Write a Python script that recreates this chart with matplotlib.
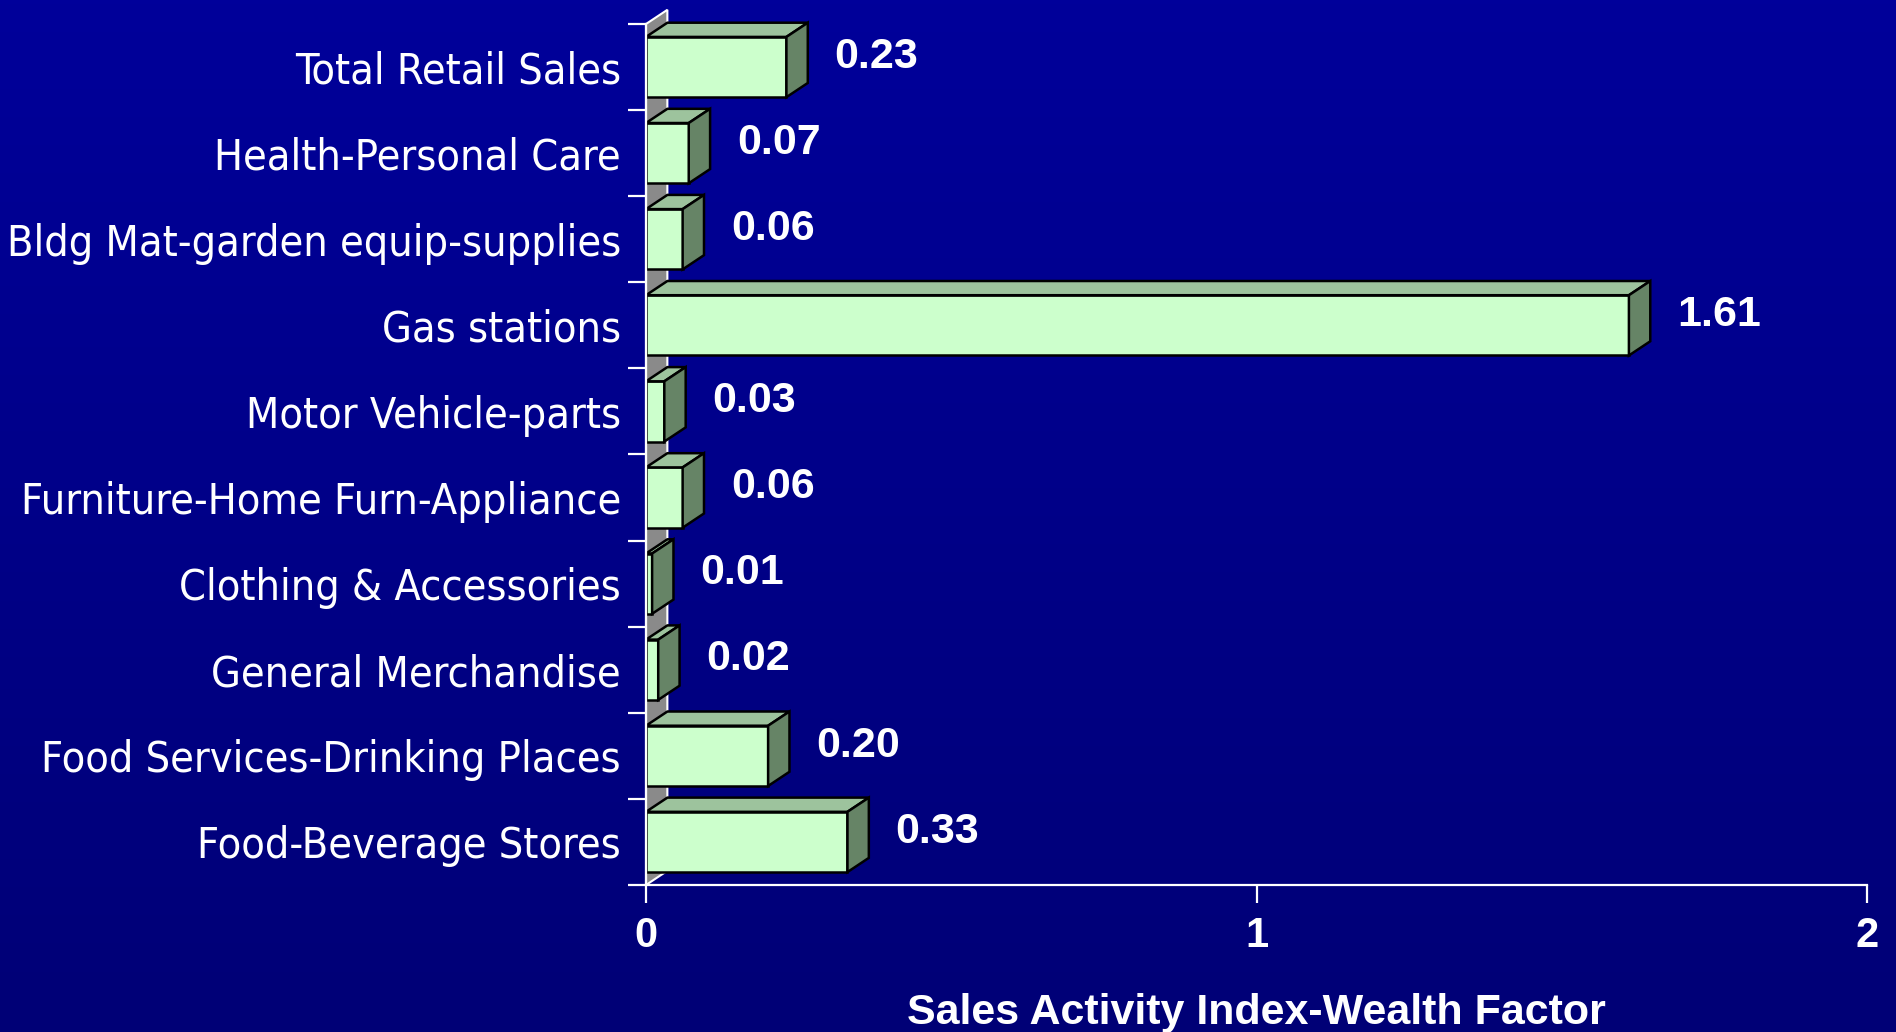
import numpy as np
import matplotlib
matplotlib.use('Agg')
import matplotlib.pyplot as plt
from matplotlib.patches import Polygon

# data (top to bottom as in the chart)
categories = ['Total Retail Sales', 'Health-Personal Care', 'Bldg Mat-garden equip-supplies',
              'Gas stations', 'Motor Vehicle-parts', 'Furniture-Home Furn-Appliance',
              'Clothing & Accessories', 'General Merchandise', 'Food Services-Drinking Places',
              'Food-Beverage Stores']
values = [0.23, 0.07, 0.06, 1.61, 0.03, 0.06, 0.01, 0.02, 0.20, 0.33]
value_labels = ['0.23', '0.07', '0.06', '1.61', '0.03', '0.06', '0.01', '0.02', '0.20', '0.33']
xticks = [0, 1, 2]
xlabel = 'Sales Activity Index-Wealth Factor'

# styling
front_col = '#CCFFCC'
top_col = '#9DC39D'
side_col = '#668466'
wall_col = '#8A8A8A'
bar_h = 0.7
dx = 0.035   # depth in x units
dy = 0.165   # depth in row units

fig = plt.figure(figsize=(18.96, 10.32), dpi=100)

# background gradient
bg = fig.add_axes([0, 0, 1, 1], zorder=-10)
grad = np.linspace(0, 1, 256).reshape(-1, 1)
top_rgb = np.array([0, 0, 0x9A]) / 255
bot_rgb = np.array([0, 0, 0x76]) / 255
img = top_rgb * (1 - grad[..., None]) + bot_rgb * grad[..., None]
img = np.repeat(img, 2, axis=1)
bg.imshow(img, aspect='auto', extent=[0, 1, 0, 1])
bg.axis('off')

ax = fig.add_axes([646 / 1896, 147 / 1032, 1221 / 1896, 861 / 1032])
ax.patch.set_visible(False)
n = len(categories)
pos = np.arange(n)[::-1]
ax.set_xlim(0, 2)
ax.set_ylim(-0.5, n - 0.5)

# back wall strip
wall = Polygon([(0, -0.5), (dx, -0.5 + dy), (dx, n - 0.5 + dy), (0, n - 0.5)],
               closed=True, facecolor=wall_col, edgecolor='white', lw=1.5,
               clip_on=False, zorder=1)
ax.add_patch(wall)

# 3D bars
ax.barh(pos, values, height=bar_h, color=front_col, edgecolor='black', lw=1.8, zorder=3)
for y, v, lab in zip(pos, values, value_labels):
    yb, yt = y - bar_h / 2, y + bar_h / 2
    top = Polygon([(0, yt), (v, yt), (v + dx, yt + dy), (dx, yt + dy)], closed=True,
                  facecolor=top_col, edgecolor='black', lw=1.8, clip_on=False, zorder=3)
    side = Polygon([(v, yb), (v + dx, yb + dy), (v + dx, yt + dy), (v, yt)], closed=True,
                   facecolor=side_col, edgecolor='black', lw=1.8, clip_on=False, zorder=3)
    ax.add_patch(top)
    ax.add_patch(side)
    ax.text(v + dx + 0.044, y + 0.12, lab, color='white', fontsize=31, fontweight='bold',
            family='Liberation Sans', ha='left', va='center', zorder=5)

# axes
for s in ['top', 'right']:
    ax.spines[s].set_visible(False)
for s in ['left', 'bottom']:
    ax.spines[s].set_color('white')
    ax.spines[s].set_linewidth(1.6)
    ax.spines[s].set_zorder(4)

ax.set_xticks(xticks)
ax.set_xticklabels([str(t) for t in xticks], color='white', fontsize=30,
                   fontweight='bold', family='Liberation Sans')
ax.tick_params(axis='x', colors='white', length=13, width=1.6, pad=9, direction='out')

ax.set_yticks(np.arange(-0.5, n, 1.0))
ax.set_yticklabels([])
ax.set_yticks(pos, minor=True)
ax.set_yticklabels(categories, minor=True, color='white', fontsize=31,
                   family='DejaVu Sans', fontstretch='condensed')
ax.tick_params(axis='y', which='minor', length=0, pad=18)
ax.tick_params(axis='y', which='major', colors='white', length=13, width=1.6, direction='out')
for t in ax.get_yticklabels(minor=True):
    t.set_y(t.get_position()[1])

fig.text((646 + 1867) / 2 / 1896, 8 / 1032, xlabel, color='white', fontsize=31,
         fontweight='bold', family='Liberation Sans', ha='center', va='baseline')

fig.savefig('out.png', dpi=100, facecolor='#000088')
